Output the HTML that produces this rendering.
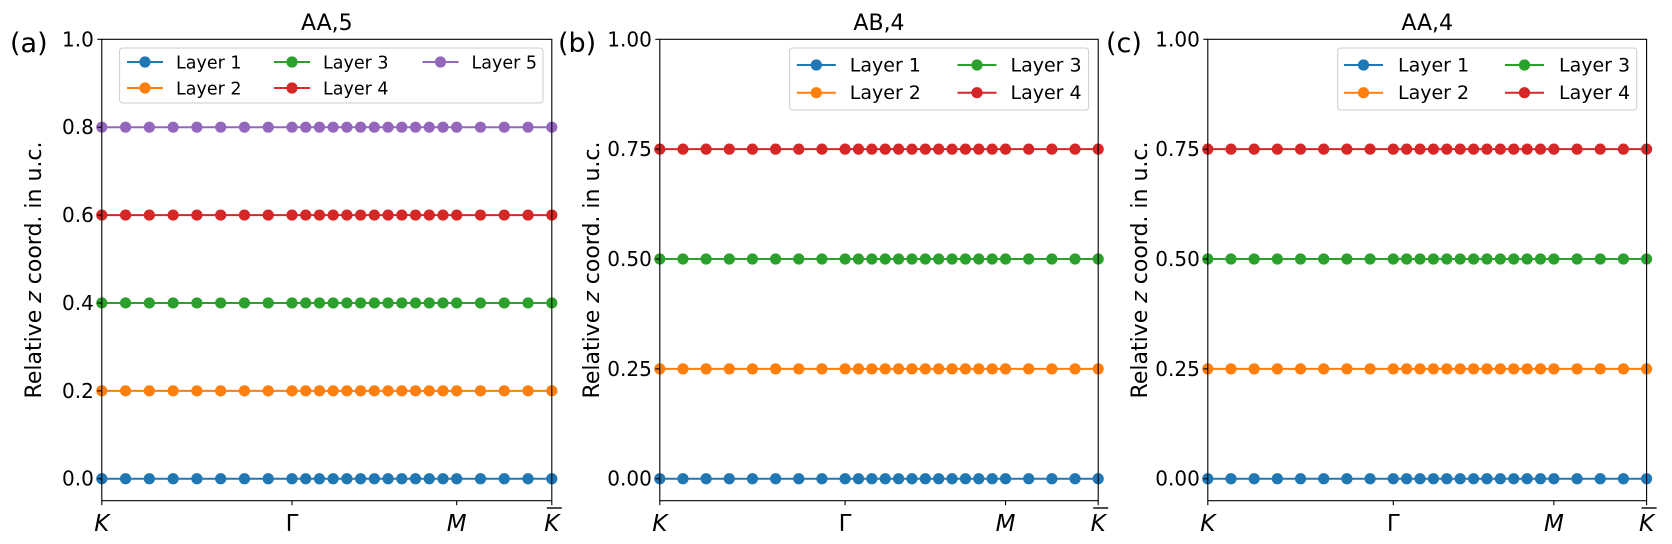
<!DOCTYPE html>
<html><head><meta charset="utf-8"><style>
html,body{margin:0;padding:0;background:#fff;}
svg{display:block;font-family:"DejaVu Sans","Liberation Sans",sans-serif;}
</style></head><body>
<svg id="fig" width="1672" height="544" viewBox="0 0 1672 544" xmlns="http://www.w3.org/2000/svg"></svg>
<script>
// k-path coordinates (K -> Gamma -> M -> Kbar), Gamma-K length = 1
const kpoints = [0,0.125,0.25,0.375,0.5,0.625,0.75,0.875,1,
  1.0722,1.1443,1.2165,1.2887,1.3608,1.433,1.5052,1.5773,1.6495,1.7217,1.7938,1.866,
  1.991,2.116,2.241,2.366];
const kTickPos = [0,1,1.866,2.366];
const kTickLabels = ["K","Γ","M","K̄"];
const colors = ["#1f77b4","#ff7f0e","#2ca02c","#d62728","#9467bd"];
// panel (a) AA,5
const aLayer1 = [0,0,0,0,0,0,0,0,0,0,0,0,0,0,0,0,0,0,0,0,0,0,0,0,0];
const aLayer2 = [0.2,0.2,0.2,0.2,0.2,0.2,0.2,0.2,0.2,0.2,0.2,0.2,0.2,0.2,0.2,0.2,0.2,0.2,0.2,0.2,0.2,0.2,0.2,0.2,0.2];
const aLayer3 = [0.4,0.4,0.4,0.4,0.4,0.4,0.4,0.4,0.4,0.4,0.4,0.4,0.4,0.4,0.4,0.4,0.4,0.4,0.4,0.4,0.4,0.4,0.4,0.4,0.4];
const aLayer4 = [0.6,0.6,0.6,0.6,0.6,0.6,0.6,0.6,0.6,0.6,0.6,0.6,0.6,0.6,0.6,0.6,0.6,0.6,0.6,0.6,0.6,0.6,0.6,0.6,0.6];
const aLayer5 = [0.8,0.8,0.8,0.8,0.8,0.8,0.8,0.8,0.8,0.8,0.8,0.8,0.8,0.8,0.8,0.8,0.8,0.8,0.8,0.8,0.8,0.8,0.8,0.8,0.8];
// panel (b) AB,4
const bLayer1 = [0,0,0,0,0,0,0,0,0,0,0,0,0,0,0,0,0,0,0,0,0,0,0,0,0];
const bLayer2 = [0.25,0.25,0.25,0.25,0.25,0.25,0.25,0.25,0.25,0.25,0.25,0.25,0.25,0.25,0.25,0.25,0.25,0.25,0.25,0.25,0.25,0.25,0.25,0.25,0.25];
const bLayer3 = [0.5,0.5,0.5,0.5,0.5,0.5,0.5,0.5,0.5,0.5,0.5,0.5,0.5,0.5,0.5,0.5,0.5,0.5,0.5,0.5,0.5,0.5,0.5,0.5,0.5];
const bLayer4 = [0.75,0.75,0.75,0.75,0.75,0.75,0.75,0.75,0.75,0.75,0.75,0.75,0.75,0.75,0.75,0.75,0.75,0.75,0.75,0.75,0.75,0.75,0.75,0.75,0.75];
// panel (c) AA,4
const cLayer1 = [0,0,0,0,0,0,0,0,0,0,0,0,0,0,0,0,0,0,0,0,0,0,0,0,0];
const cLayer2 = [0.25,0.25,0.25,0.25,0.25,0.25,0.25,0.25,0.25,0.25,0.25,0.25,0.25,0.25,0.25,0.25,0.25,0.25,0.25,0.25,0.25,0.25,0.25,0.25,0.25];
const cLayer3 = [0.5,0.5,0.5,0.5,0.5,0.5,0.5,0.5,0.5,0.5,0.5,0.5,0.5,0.5,0.5,0.5,0.5,0.5,0.5,0.5,0.5,0.5,0.5,0.5,0.5];
const cLayer4 = [0.75,0.75,0.75,0.75,0.75,0.75,0.75,0.75,0.75,0.75,0.75,0.75,0.75,0.75,0.75,0.75,0.75,0.75,0.75,0.75,0.75,0.75,0.75,0.75,0.75];
const aTicks = [0,0.2,0.4,0.6,0.8,1.0];
const aTickLabels = ["0.0","0.2","0.4","0.6","0.8","1.0"];
const bcTicks = [0,0.25,0.5,0.75,1.0];
const bcTickLabels = ["0.00","0.25","0.50","0.75","1.00"];
const layerNames = ["Layer 1","Layer 2","Layer 3","Layer 4","Layer 5"];

const NS = "http://www.w3.org/2000/svg";
const fig = document.getElementById('fig');
function el(tag, attrs, parent, text){
  const e = document.createElementNS(NS, tag);
  for (const k in attrs) e.setAttribute(k, attrs[k]);
  if (text !== undefined) e.textContent = text;
  (parent||fig).appendChild(e);
  return e;
}
const Y0 = 39.3, Y1 = 500.7, YMIN = -0.05, YMAX = 1.0;

function panel(cfg){
  const g = el('g', {});
  
  
  const xs = v => cfg.x0 + (v - kpoints[0]) / (kpoints[kpoints.length-1] - kpoints[0]) * (cfg.x1 - cfg.x0);
  const ys = v => Y1 - (v - YMIN) / (YMAX - YMIN) * (Y1 - Y0);
  cfg.series.forEach((s, i) => {
    const sg = el('g', {}, g);
    
    
    const pts = kpoints.map((k, j) => xs(k).toFixed(2) + ',' + ys(s[j]).toFixed(2)).join(' ');
    el('polyline', {points: pts, fill: 'none', stroke: colors[i], 'stroke-width': 2}, sg);
    kpoints.forEach((k, j) => {
      const c = el('circle', {cx: xs(k), cy: ys(s[j]), r: 5.6, fill: colors[i]}, sg);
      
      
    });
  });
  const fr = el('rect', {x: cfg.x0, y: Y0, width: cfg.x1 - cfg.x0, height: Y1 - Y0, fill: 'none', stroke: '#000', 'stroke-width': 1.1}, g);
  
  
  cfg.yTicks.forEach((t, i) => {
    const y = ys(t);
    el('line', {x1: cfg.x0 - 4.5, x2: cfg.x0, y1: y, y2: y, stroke: '#000', 'stroke-width': 1.1}, g);
    const tl = el('text', {x: cfg.x0 - 8, y: y + 7, 'text-anchor': 'end', 'font-size': 20}, g, cfg.yTickLabels[i]);
    
    
  });
  kTickPos.forEach((t, i) => {
    const x = xs(t);
    el('line', {x1: x, x2: x, y1: Y1, y2: Y1 + 4.5, stroke: '#000', 'stroke-width': 1.1}, g);
    const italic = (i !== 1);
    const tl = el('text', {x: x, y: 531, 'text-anchor': 'middle', 'font-size': 23, 'font-style': italic ? 'italic' : 'normal'}, g, i === 3 ? 'K' : kTickLabels[i]);
    
    
    if (i === 3) el('line', {x1: x - 5, x2: x + 10, y1: 508, y2: 508, stroke: '#000', 'stroke-width': 1.4}, g);
  });
  const yl = el('text', {x: 0, y: 0, transform: 'translate(' + (cfg.x0 - 61) + ',270) rotate(-90)', 'text-anchor': 'middle', 'font-size': 22}, g);
  
  
  el('tspan', {}, yl, 'Relative ');
  el('tspan', {'font-style': 'italic'}, yl, 'z');
  el('tspan', {}, yl, ' coord. in u.c.');
  const tt = el('text', {x: (cfg.x0 + cfg.x1) / 2, y: 30, 'text-anchor': 'middle', 'font-size': 22}, g, cfg.title);
  
  
  const pl = el('text', {x: cfg.letterX, y: 52, 'font-size': 27}, g, cfg.letter);
  
  
  const L = cfg.legend;
  const lg = el('g', {}, g);
  
  
  el('rect', {x: L.x, y: L.y, width: L.w, height: L.h, rx: 3, fill: '#fff', 'fill-opacity': 0.8, stroke: '#ccc', 'stroke-width': 1}, lg);
  cfg.series.forEach((s, i) => {
    const col = Math.floor(i / 2), row = i % 2;
    const hx = L.cols[col], y = L.rows[row];
    const eg = el('g', {}, lg);
    
    
    el('line', {x1: hx, x2: hx + L.hw, y1: y, y2: y, stroke: colors[i], 'stroke-width': 2}, eg);
    el('circle', {cx: hx + L.hw / 2, cy: y, r: 5.6, fill: colors[i]}, eg);
    el('text', {x: hx + L.tx, y: y + 6.5, 'font-size': L.fs}, eg, layerNames[i]);
  });
}

panel({name: 'panel-a', x0: 101.8, x1: 551.8, title: 'AA,5', letter: '(a)', letterX: 10,
  series: [aLayer1, aLayer2, aLayer3, aLayer4, aLayer5], yTicks: aTicks, yTickLabels: aTickLabels,
  legend: {x: 119.6, y: 48, w: 423.4, h: 55, rows: [62, 88], cols: [127, 274, 422.5], hw: 36, tx: 49, fs: 17.5}});
panel({name: 'panel-b', x0: 659.8, x1: 1098.2, title: 'AB,4', letter: '(b)', letterX: 558,
  series: [bLayer1, bLayer2, bLayer3, bLayer4], yTicks: bcTicks, yTickLabels: bcTickLabels,
  legend: {x: 789.6, y: 48, w: 299, h: 62, rows: [65, 92.7], cols: [796.8, 957.5], hw: 39, tx: 53, fs: 19}});
panel({name: 'panel-c', x0: 1207.8, x1: 1646.6, title: 'AA,4', letter: '(c)', letterX: 1106,
  series: [cLayer1, cLayer2, cLayer3, cLayer4], yTicks: bcTicks, yTickLabels: bcTickLabels,
  legend: {x: 1337.7, y: 48, w: 299, h: 62, rows: [65, 92.7], cols: [1344, 1505], hw: 39, tx: 54, fs: 19}});
</script>
</body></html>
